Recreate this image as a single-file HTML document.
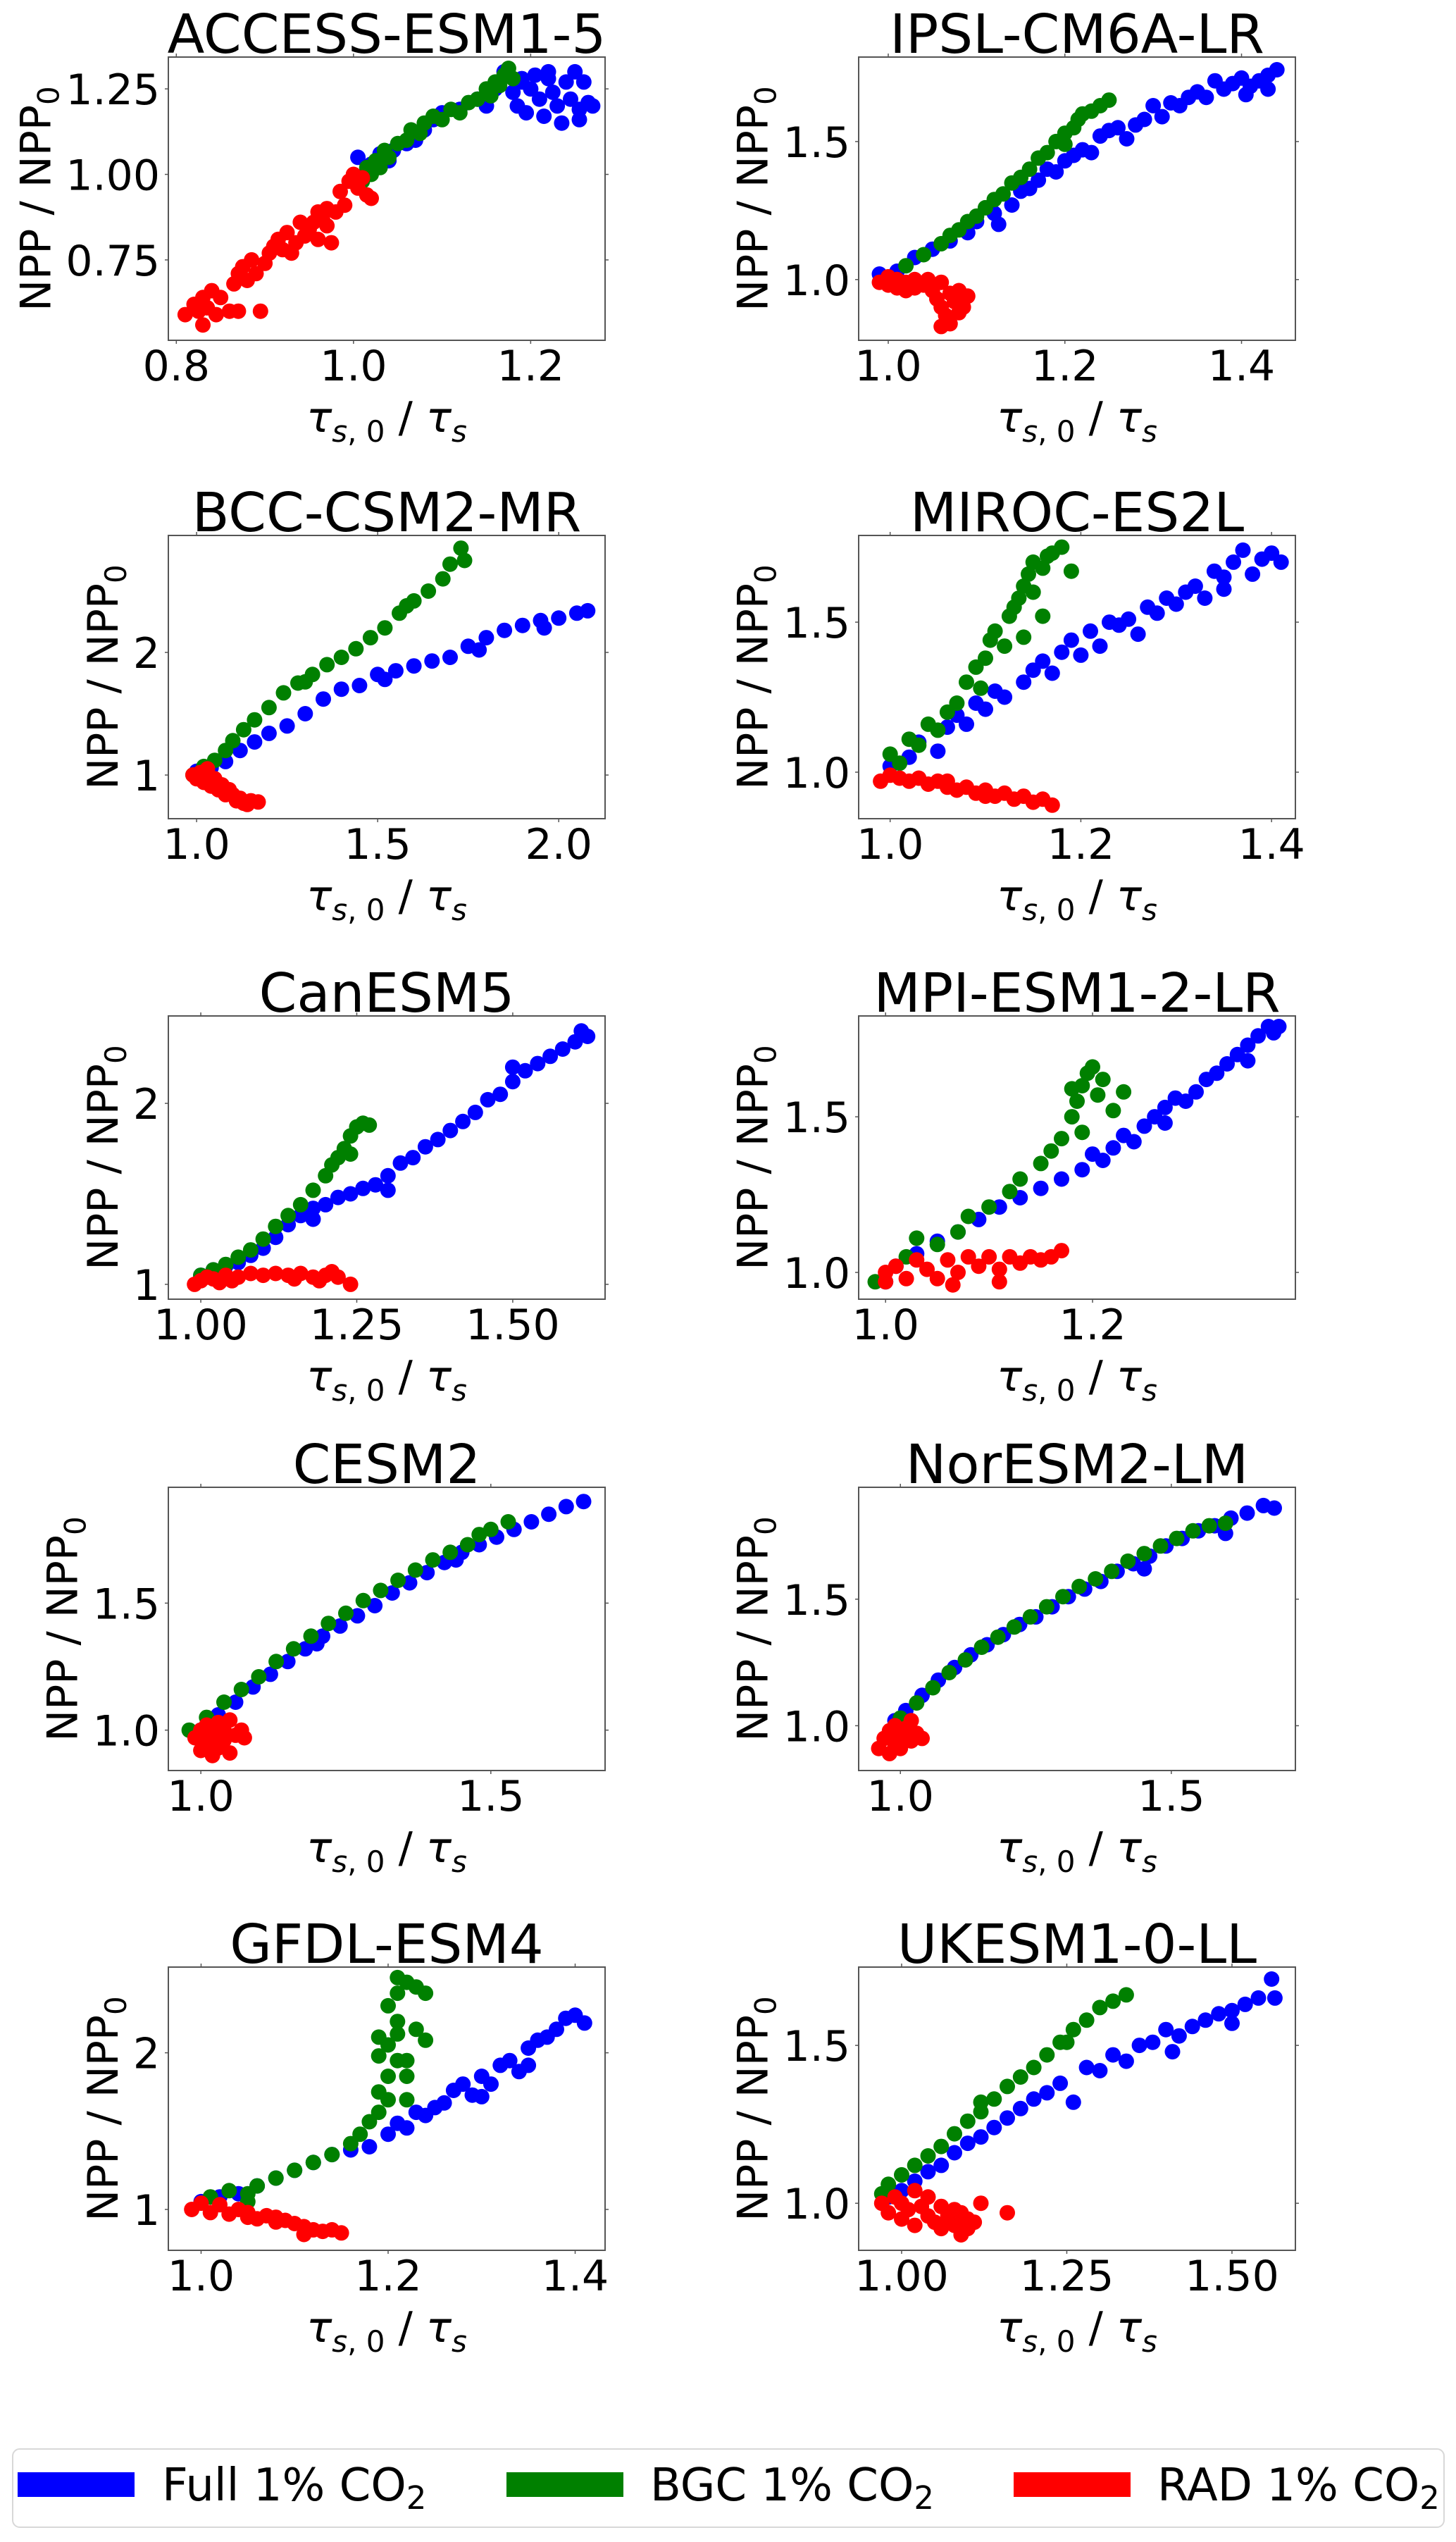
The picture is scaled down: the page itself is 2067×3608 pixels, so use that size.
<!DOCTYPE html>
<html><head><meta charset="utf-8">
<style>
html,body{margin:0;padding:0;background:#fff;}
svg{display:block;font-family:"DejaVu Sans","Liberation Sans",sans-serif;}
</style></head>
<body>
<svg id="fig" width="2067" height="3608" viewBox="0 0 2067 3608" xmlns="http://www.w3.org/2000/svg">
<rect x="0" y="0" width="2067" height="3608" fill="#fff"/>
<g id="panels"></g>
<g>
  <rect x="18" y="3476" width="2032" height="111" rx="10" fill="#fff" stroke="#d8d8d8" stroke-width="2"/>
  <rect x="25" y="3509" width="166" height="35" fill="#0000ff"/>
  <text x="230" y="3549" font-size="64">Full 1% CO<tspan font-size="45" dy="12">2</tspan></text>
  <rect x="719" y="3509" width="166" height="35" fill="#008000"/>
  <text x="923" y="3549" font-size="64">BGC 1% CO<tspan font-size="45" dy="12">2</tspan></text>
  <rect x="1439" y="3509" width="166" height="35" fill="#ff0000"/>
  <text x="1643" y="3549" font-size="64">RAD 1% CO<tspan font-size="45" dy="12">2</tspan></text>
</g>
</svg>
<script>
// ---- data ----
const titles=["ACCESS-ESM1-5","IPSL-CM6A-LR","BCC-CSM2-MR","MIROC-ES2L","CanESM5","MPI-ESM1-2-LR","CESM2","NorESM2-LM","GFDL-ESM4","UKESM1-0-LL"];
const xRanges=[[0.791,1.284],[0.9665,1.461],[0.922,2.128],[0.967,1.425],[0.948,1.648],[0.974,1.396],[0.944,1.697],[0.923,1.729],[0.965,1.432],[0.935,1.596]];
const yRanges=[[0.515,1.343],[0.78,1.806],[0.644,2.954],[0.845,1.789],[0.918,2.483],[0.914,1.824],[0.841,1.956],[0.823,1.942],[0.739,2.547],[0.851,1.748]];
const xTicks=[[0.8,1.0,1.2],[1.0,1.2,1.4],[1.0,1.5,2.0],[1.0,1.2,1.4],[1.0,1.25,1.5],[1.0,1.2],[1.0,1.5],[1.0,1.5],[1.0,1.2,1.4],[1.0,1.25,1.5]];
const xTickLabels=[["0.8","1.0","1.2"],["1.0","1.2","1.4"],["1.0","1.5","2.0"],["1.0","1.2","1.4"],["1.00","1.25","1.50"],["1.0","1.2"],["1.0","1.5"],["1.0","1.5"],["1.0","1.2","1.4"],["1.00","1.25","1.50"]];
const yTicks=[[0.75,1.0,1.25],[1.0,1.5],[1,2],[1.0,1.5],[1,2],[1.0,1.5],[1.0,1.5],[1.0,1.5],[1,2],[1.0,1.5]];
const yTickLabels=[["0.75","1.00","1.25"],["1.0","1.5"],["1","2"],["1.0","1.5"],["1","2"],["1.0","1.5"],["1.0","1.5"],["1.0","1.5"],["1","2"],["1.0","1.5"]];

const accessFull=[[1.005,1.05],[1.02,1.03],[1.03,1.06],[1.04,1.04],[1.045,1.07],[1.06,1.09],[1.07,1.10],[1.08,1.13],[1.09,1.16],[1.1,1.18],[1.12,1.19],[1.14,1.22],[1.15,1.20],[1.16,1.25],[1.17,1.30],[1.18,1.24],[1.185,1.20],[1.19,1.27],[1.195,1.18],[1.2,1.25],[1.205,1.29],[1.21,1.22],[1.215,1.17],[1.22,1.28],[1.225,1.24],[1.23,1.20],[1.235,1.15],[1.24,1.27],[1.245,1.22],[1.25,1.30],[1.255,1.19],[1.26,1.27],[1.265,1.21],[1.27,1.20],[1.255,1.16],[1.19,1.28],[1.22,1.30]];
const accessBGC=[[1.01,0.98],[1.015,1.02],[1.02,1.0],[1.025,1.04],[1.03,1.02],[1.035,1.07],[1.04,1.05],[1.05,1.09],[1.06,1.10],[1.065,1.13],[1.075,1.12],[1.08,1.15],[1.09,1.17],[1.1,1.16],[1.11,1.19],[1.12,1.18],[1.13,1.21],[1.14,1.22],[1.15,1.25],[1.155,1.23],[1.16,1.27],[1.165,1.26],[1.17,1.29],[1.175,1.31],[1.18,1.28]];
const accessRAD=[[0.81,0.59],[0.82,0.62],[0.825,0.60],[0.83,0.56],[0.83,0.64],[0.84,0.66],[0.835,0.61],[0.845,0.59],[0.85,0.64],[0.86,0.60],[0.87,0.60],[0.865,0.68],[0.87,0.71],[0.875,0.73],[0.88,0.69],[0.885,0.75],[0.89,0.71],[0.895,0.60],[0.9,0.74],[0.905,0.77],[0.91,0.79],[0.915,0.81],[0.92,0.78],[0.925,0.83],[0.93,0.77],[0.935,0.80],[0.94,0.86],[0.945,0.82],[0.95,0.84],[0.955,0.86],[0.96,0.81],[0.965,0.87],[0.97,0.85],[0.975,0.80],[0.98,0.89],[0.985,0.95],[0.99,0.91],[0.995,0.98],[1.0,1.0],[1.005,0.96],[1.01,0.99],[1.015,0.94],[1.02,0.93],[0.97,0.90],[0.96,0.89]];

const ipslFull=[[0.99,1.02],[1.01,1.03],[1.03,1.08],[1.05,1.11],[1.07,1.14],[1.09,1.17],[1.1,1.21],[1.12,1.24],[1.125,1.20],[1.14,1.27],[1.15,1.32],[1.16,1.33],[1.17,1.36],[1.18,1.40],[1.19,1.39],[1.2,1.43],[1.21,1.45],[1.22,1.47],[1.23,1.46],[1.24,1.52],[1.25,1.54],[1.26,1.55],[1.27,1.51],[1.28,1.56],[1.29,1.58],[1.3,1.63],[1.31,1.59],[1.32,1.64],[1.33,1.63],[1.34,1.66],[1.35,1.68],[1.36,1.66],[1.37,1.72],[1.38,1.69],[1.39,1.71],[1.4,1.73],[1.405,1.67],[1.41,1.70],[1.42,1.72],[1.43,1.69],[1.44,1.76],[1.43,1.74]];
const ipslBGC=[[1.0,1.0],[1.02,1.05],[1.04,1.09],[1.06,1.13],[1.07,1.16],[1.08,1.18],[1.09,1.21],[1.1,1.23],[1.11,1.26],[1.12,1.29],[1.13,1.31],[1.14,1.35],[1.15,1.37],[1.16,1.40],[1.17,1.44],[1.18,1.46],[1.19,1.50],[1.2,1.53],[1.21,1.55],[1.215,1.58],[1.22,1.60],[1.23,1.61],[1.24,1.63],[1.25,1.65],[1.2,1.49]];
const ipslRAD=[[0.99,0.99],[1.0,0.98],[1.0,1.01],[1.01,0.97],[1.01,1.0],[1.02,0.99],[1.02,0.96],[1.03,1.0],[1.03,0.97],[1.04,0.98],[1.045,1.0],[1.05,0.96],[1.055,0.93],[1.06,0.99],[1.06,0.90],[1.065,0.87],[1.07,0.95],[1.07,0.84],[1.075,0.92],[1.08,0.88],[1.08,0.96],[1.085,0.90],[1.09,0.94],[1.06,0.83]];

const bccFull=[[1.0,1.03],[1.04,1.06],[1.08,1.11],[1.12,1.2],[1.16,1.27],[1.2,1.34],[1.25,1.40],[1.3,1.50],[1.35,1.62],[1.4,1.70],[1.45,1.73],[1.5,1.82],[1.55,1.85],[1.6,1.89],[1.65,1.93],[1.7,1.96],[1.75,2.05],[1.8,2.12],[1.85,2.18],[1.9,2.22],[1.95,2.26],[2.0,2.28],[2.05,2.32],[2.08,2.34],[1.52,1.78],[1.78,2.02],[1.96,2.20]];
const bccBGC=[[0.99,1.0],[1.02,1.07],[1.05,1.12],[1.08,1.2],[1.1,1.28],[1.13,1.37],[1.16,1.45],[1.2,1.55],[1.24,1.67],[1.28,1.75],[1.32,1.82],[1.36,1.9],[1.4,1.96],[1.44,2.03],[1.48,2.12],[1.52,2.2],[1.56,2.32],[1.6,2.42],[1.64,2.50],[1.68,2.60],[1.7,2.72],[1.73,2.85],[1.74,2.75],[1.3,1.76],[1.58,2.38]];
const bccRAD=[[0.99,1.0],[1.0,0.97],[1.01,1.02],[1.02,0.94],[1.03,1.0],[1.04,0.91],[1.05,0.97],[1.06,0.88],[1.07,0.92],[1.08,0.84],[1.1,0.84],[1.11,0.79],[1.12,0.81],[1.13,0.77],[1.14,0.76],[1.15,0.79],[1.17,0.78],[1.03,1.05],[1.09,0.88]];

const mirocFull=[[1.0,1.02],[1.02,1.05],[1.03,1.10],[1.05,1.07],[1.06,1.15],[1.07,1.19],[1.08,1.16],[1.09,1.23],[1.1,1.21],[1.11,1.27],[1.12,1.25],[1.14,1.30],[1.15,1.34],[1.16,1.37],[1.17,1.33],[1.18,1.40],[1.19,1.44],[1.2,1.39],[1.21,1.47],[1.22,1.42],[1.23,1.50],[1.24,1.49],[1.25,1.51],[1.26,1.46],[1.27,1.55],[1.28,1.53],[1.29,1.58],[1.3,1.56],[1.31,1.60],[1.32,1.62],[1.33,1.58],[1.34,1.67],[1.35,1.65],[1.36,1.70],[1.37,1.74],[1.38,1.66],[1.39,1.71],[1.4,1.73],[1.41,1.70],[1.35,1.61]];
const mirocBGC=[[1.0,1.06],[1.01,1.03],[1.02,1.11],[1.03,1.09],[1.04,1.16],[1.05,1.14],[1.06,1.20],[1.07,1.23],[1.08,1.30],[1.09,1.35],[1.095,1.28],[1.1,1.38],[1.105,1.44],[1.11,1.47],[1.12,1.42],[1.125,1.52],[1.13,1.55],[1.135,1.58],[1.14,1.62],[1.145,1.66],[1.15,1.70],[1.16,1.68],[1.165,1.72],[1.17,1.73],[1.18,1.75],[1.19,1.67],[1.15,1.60],[1.16,1.52],[1.14,1.45]];
const mirocRAD=[[0.99,0.97],[1.0,0.99],[1.01,0.98],[1.02,0.97],[1.03,0.98],[1.04,0.96],[1.05,0.97],[1.06,0.95],[1.07,0.94],[1.08,0.95],[1.09,0.93],[1.1,0.94],[1.11,0.92],[1.12,0.93],[1.13,0.91],[1.14,0.92],[1.15,0.90],[1.16,0.91],[1.17,0.89],[1.06,0.97],[1.1,0.92]];

const canFull=[[1.0,1.05],[1.02,1.08],[1.04,1.10],[1.06,1.12],[1.08,1.16],[1.1,1.20],[1.12,1.26],[1.14,1.33],[1.16,1.38],[1.18,1.42],[1.2,1.44],[1.22,1.48],[1.24,1.50],[1.26,1.53],[1.28,1.55],[1.3,1.60],[1.32,1.67],[1.34,1.70],[1.36,1.76],[1.38,1.80],[1.4,1.85],[1.42,1.90],[1.44,1.95],[1.46,2.02],[1.48,2.05],[1.5,2.12],[1.52,2.18],[1.54,2.22],[1.56,2.26],[1.58,2.30],[1.6,2.34],[1.61,2.40],[1.62,2.37],[1.5,2.20],[1.3,1.52],[1.18,1.36]];
const canBGC=[[1.0,1.05],[1.02,1.08],[1.04,1.11],[1.06,1.15],[1.08,1.19],[1.1,1.25],[1.12,1.32],[1.14,1.38],[1.16,1.44],[1.18,1.52],[1.2,1.60],[1.21,1.66],[1.22,1.70],[1.23,1.75],[1.24,1.82],[1.25,1.87],[1.26,1.89],[1.27,1.88],[1.24,1.72]];
const canRAD=[[0.99,1.0],[1.0,1.02],[1.01,1.04],[1.02,1.03],[1.03,1.01],[1.04,1.05],[1.06,1.04],[1.08,1.06],[1.1,1.05],[1.12,1.06],[1.14,1.05],[1.16,1.06],[1.18,1.04],[1.19,1.02],[1.2,1.05],[1.21,1.07],[1.22,1.04],[1.24,1.0],[1.05,1.02],[1.15,1.03]];

const mpiFull=[[1.0,0.97],[1.01,1.02],[1.03,1.06],[1.05,1.10],[1.07,1.13],[1.09,1.17],[1.11,1.21],[1.13,1.24],[1.15,1.27],[1.17,1.30],[1.19,1.33],[1.2,1.38],[1.21,1.36],[1.22,1.40],[1.23,1.44],[1.24,1.42],[1.25,1.47],[1.26,1.50],[1.27,1.53],[1.28,1.56],[1.29,1.55],[1.3,1.58],[1.31,1.62],[1.32,1.64],[1.33,1.67],[1.34,1.70],[1.35,1.73],[1.36,1.76],[1.37,1.79],[1.375,1.77],[1.38,1.79],[1.27,1.48],[1.35,1.68]];
const mpiBGC=[[0.99,0.97],[1.02,1.05],[1.03,1.11],[1.05,1.09],[1.07,1.13],[1.08,1.18],[1.1,1.21],[1.12,1.26],[1.13,1.30],[1.15,1.35],[1.16,1.39],[1.17,1.43],[1.18,1.50],[1.185,1.55],[1.19,1.60],[1.195,1.64],[1.2,1.66],[1.21,1.62],[1.205,1.57],[1.22,1.52],[1.23,1.58],[1.18,1.59],[1.19,1.45]];
const mpiRAD=[[1.0,1.0],[1.0,0.97],[1.01,1.02],[1.02,0.98],[1.03,1.04],[1.04,1.01],[1.05,0.98],[1.06,1.04],[1.07,1.0],[1.08,1.05],[1.09,1.02],[1.1,1.05],[1.11,1.01],[1.12,1.05],[1.13,1.03],[1.14,1.05],[1.15,1.04],[1.16,1.05],[1.17,1.07],[1.065,0.96],[1.11,0.97]];

const cesmFull=[[1.0,1.0],[1.03,1.06],[1.06,1.11],[1.09,1.17],[1.12,1.22],[1.15,1.27],[1.18,1.32],[1.21,1.37],[1.24,1.41],[1.27,1.45],[1.3,1.49],[1.33,1.54],[1.36,1.58],[1.39,1.62],[1.42,1.66],[1.45,1.70],[1.48,1.73],[1.51,1.76],[1.54,1.79],[1.57,1.82],[1.6,1.85],[1.63,1.88],[1.66,1.90],[1.44,1.67],[1.2,1.34]];
const cesmBGC=[[0.98,1.0],[1.01,1.05],[1.04,1.11],[1.07,1.16],[1.1,1.21],[1.13,1.27],[1.16,1.32],[1.19,1.37],[1.22,1.42],[1.25,1.46],[1.28,1.51],[1.31,1.55],[1.34,1.59],[1.37,1.63],[1.4,1.67],[1.43,1.70],[1.46,1.73],[1.48,1.77],[1.5,1.79],[1.53,1.82]];
const cesmRAD=[[0.99,0.97],[1.0,1.0],[1.0,0.92],[1.01,0.95],[1.01,1.02],[1.02,0.90],[1.02,0.98],[1.03,1.03],[1.03,0.93],[1.04,0.96],[1.04,1.0],[1.05,1.04],[1.05,0.91],[1.06,0.98],[1.07,1.0],[1.075,0.97]];

const norFull=[[0.99,1.02],[1.01,1.06],[1.04,1.12],[1.07,1.18],[1.1,1.23],[1.13,1.28],[1.16,1.32],[1.19,1.36],[1.22,1.40],[1.25,1.43],[1.28,1.47],[1.31,1.51],[1.34,1.54],[1.37,1.57],[1.4,1.61],[1.43,1.64],[1.46,1.67],[1.49,1.71],[1.52,1.74],[1.55,1.77],[1.58,1.79],[1.61,1.82],[1.64,1.84],[1.67,1.87],[1.69,1.86],[1.45,1.62],[1.6,1.76]];
const norBGC=[[1.0,1.03],[1.03,1.09],[1.06,1.15],[1.09,1.21],[1.12,1.26],[1.15,1.31],[1.18,1.35],[1.21,1.39],[1.24,1.43],[1.27,1.47],[1.3,1.51],[1.33,1.55],[1.36,1.58],[1.39,1.61],[1.42,1.65],[1.45,1.68],[1.48,1.71],[1.51,1.74],[1.54,1.77],[1.57,1.79],[1.6,1.80]];
const norRAD=[[0.96,0.91],[0.97,0.95],[0.98,0.89],[0.98,0.98],[0.99,0.93],[0.99,1.0],[1.0,0.96],[1.0,0.91],[1.01,0.99],[1.02,0.94],[1.02,1.02],[1.03,0.97],[1.04,0.95]];

const gfdlFull=[[1.0,1.05],[1.02,1.08],[1.04,1.10],[1.06,1.15],[1.08,1.20],[1.1,1.25],[1.12,1.30],[1.14,1.35],[1.16,1.38],[1.18,1.40],[1.2,1.48],[1.21,1.55],[1.22,1.52],[1.23,1.62],[1.24,1.60],[1.25,1.65],[1.26,1.68],[1.27,1.76],[1.28,1.80],[1.29,1.73],[1.3,1.85],[1.31,1.80],[1.32,1.92],[1.33,1.95],[1.34,1.88],[1.35,2.03],[1.36,2.08],[1.37,2.10],[1.38,2.15],[1.39,2.22],[1.4,2.24],[1.41,2.19],[1.35,1.92],[1.3,1.72]];
const gfdlBGC=[[1.01,1.08],[1.03,1.12],[1.05,1.10],[1.06,1.15],[1.08,1.2],[1.1,1.25],[1.12,1.30],[1.14,1.35],[1.16,1.42],[1.17,1.48],[1.18,1.56],[1.19,1.62],[1.19,1.75],[1.2,1.7],[1.2,1.85],[1.21,1.95],[1.2,2.05],[1.21,2.12],[1.21,2.2],[1.2,2.3],[1.21,2.38],[1.22,2.45],[1.21,2.48],[1.23,2.42],[1.24,2.38],[1.23,2.15],[1.24,2.08],[1.22,1.85],[1.22,1.95],[1.19,2.1],[1.19,1.98],[1.22,1.7],[1.05,1.05]];
const gfdlRAD=[[0.99,1.0],[1.0,1.04],[1.01,0.98],[1.02,1.03],[1.03,0.97],[1.04,1.0],[1.05,0.95],[1.06,0.94],[1.07,0.96],[1.08,0.92],[1.09,0.93],[1.1,0.91],[1.11,0.89],[1.11,0.84],[1.12,0.87],[1.13,0.86],[1.14,0.87],[1.15,0.85],[1.08,0.95],[1.05,0.98]];

const ukFull=[[0.98,1.02],[1.0,1.04],[1.02,1.07],[1.04,1.10],[1.06,1.12],[1.08,1.16],[1.1,1.19],[1.12,1.21],[1.14,1.24],[1.16,1.27],[1.18,1.30],[1.2,1.33],[1.22,1.35],[1.24,1.38],[1.26,1.32],[1.28,1.43],[1.3,1.42],[1.32,1.47],[1.34,1.45],[1.36,1.50],[1.38,1.51],[1.4,1.55],[1.42,1.53],[1.44,1.56],[1.46,1.58],[1.48,1.60],[1.5,1.61],[1.52,1.63],[1.54,1.65],[1.56,1.71],[1.565,1.65],[1.5,1.57],[1.41,1.48]];
const ukBGC=[[0.97,1.03],[0.98,1.06],[1.0,1.09],[1.02,1.12],[1.04,1.15],[1.06,1.18],[1.08,1.22],[1.1,1.26],[1.12,1.29],[1.14,1.33],[1.16,1.37],[1.18,1.40],[1.2,1.43],[1.22,1.47],[1.24,1.51],[1.26,1.55],[1.28,1.58],[1.3,1.62],[1.32,1.64],[1.34,1.66],[1.12,1.32],[1.25,1.51]];
const ukRAD=[[0.97,1.0],[0.98,0.97],[0.99,1.02],[1.0,0.95],[1.0,1.0],[1.01,0.98],[1.02,1.04],[1.02,0.93],[1.03,0.99],[1.04,0.96],[1.04,1.02],[1.05,0.94],[1.06,0.99],[1.06,0.92],[1.07,0.96],[1.08,0.93],[1.08,0.98],[1.09,0.90],[1.1,0.95],[1.1,0.92],[1.11,0.94],[1.12,1.0],[1.16,0.97],[1.09,0.97]];

const fullSeries=[accessFull,ipslFull,bccFull,mirocFull,canFull,mpiFull,cesmFull,norFull,gfdlFull,ukFull];
const bgcSeries=[accessBGC,ipslBGC,bccBGC,mirocBGC,canBGC,mpiBGC,cesmBGC,norBGC,gfdlBGC,ukBGC];
const radSeries=[accessRAD,ipslRAD,bccRAD,mirocRAD,canRAD,mpiRAD,cesmRAD,norRAD,gfdlRAD,ukRAD];

// ---- layout ----
const NS="http://www.w3.org/2000/svg";
const colLeft=[239,1219], axW=620, axH=402;
const rowTop=[81,760,1442,2111,2792];
const root=document.getElementById('panels');
function mk(tag,attrs,parent){const e=document.createElementNS(NS,tag);for(const k in attrs)e.setAttribute(k,attrs[k]);parent.appendChild(e);return e;}

titles.forEach((title,i)=>{
  const L=colLeft[i%2], T=rowTop[Math.floor(i/2)];
  const [x0,x1]=xRanges[i],[y0,y1]=yRanges[i];
  const sx=v=>L+(v-x0)/(x1-x0)*axW;
  const sy=v=>T+axH-(v-y0)/(y1-y0)*axH;
  const slug=title.toLowerCase();
  const g=mk('g',{},root);
  
  
  const clipId='clip'+i;
  const cp=mk('clipPath',{id:clipId},g);
  mk('rect',{x:L,y:T,width:axW,height:axH},cp);
  const pts=mk('g',{'clip-path':'url(#'+clipId+')'},g);
  
  
  [[fullSeries[i],'#0000ff','full'],[bgcSeries[i],'#008000','bgc'],[radSeries[i],'#ff0000','rad']].forEach(([arr,col,nm])=>{
    arr.forEach(p=>{
      const c=mk('circle',{cx:sx(p[0]).toFixed(1),cy:sy(p[1]).toFixed(1),r:11,fill:col},pts);
      
      
    });
  });
  const frame=mk('rect',{x:L,y:T,width:axW,height:axH,fill:'none',stroke:'#555','stroke-width':2},g);
  
  
  xTicks[i].forEach((v,k)=>{
    const x=sx(v);
    mk('line',{x1:x,y1:T+axH,x2:x,y2:T+axH+5,stroke:'#555','stroke-width':1.5},g);
    mk('line',{x1:x,y1:T,x2:x,y2:T-5,stroke:'#555','stroke-width':1.5},g);
    const t=mk('text',{x:x,y:T+axH+57,'font-size':60,'text-anchor':'middle'},g);
    t.textContent=xTickLabels[i][k];
    
    
  });
  let maxW=0;
  yTicks[i].forEach((v,k)=>{
    const y=sy(v);
    mk('line',{x1:L,y1:y,x2:L-5,y2:y,stroke:'#555','stroke-width':1.5},g);
    mk('line',{x1:L+axW,y1:y,x2:L+axW+5,y2:y,stroke:'#555','stroke-width':1.5},g);
    const t=mk('text',{x:L-12,y:y+22,'font-size':60,'text-anchor':'end'},g);
    t.textContent=yTickLabels[i][k];
    
    
    maxW=Math.max(maxW,t.getComputedTextLength());
  });
  const tt=mk('text',{x:L+axW/2,y:T-6,'font-size':77,'text-anchor':'middle'},g);
  tt.textContent=title;
  
  
  const xl=mk('text',{x:L+axW/2,y:T+axH+130,'font-size':60,'text-anchor':'middle'},g);
  
  
  xl.innerHTML='<tspan font-style="italic">τ</tspan><tspan font-size="42" dy="14"><tspan font-style="italic">s</tspan>, 0</tspan><tspan dy="-14"> / </tspan><tspan font-style="italic">τ</tspan><tspan font-size="42" font-style="italic" dy="14">s</tspan>';
  const bx=L-12-maxW-22, cy=T+axH/2;
  const yl=mk('text',{x:bx,y:cy,'font-size':60,'text-anchor':'middle',transform:'rotate(-90 '+bx+' '+cy+')'},g);
  
  
  yl.innerHTML='NPP / NPP<tspan font-size="42" dy="12">0</tspan>';
});
</script>
</body></html>
